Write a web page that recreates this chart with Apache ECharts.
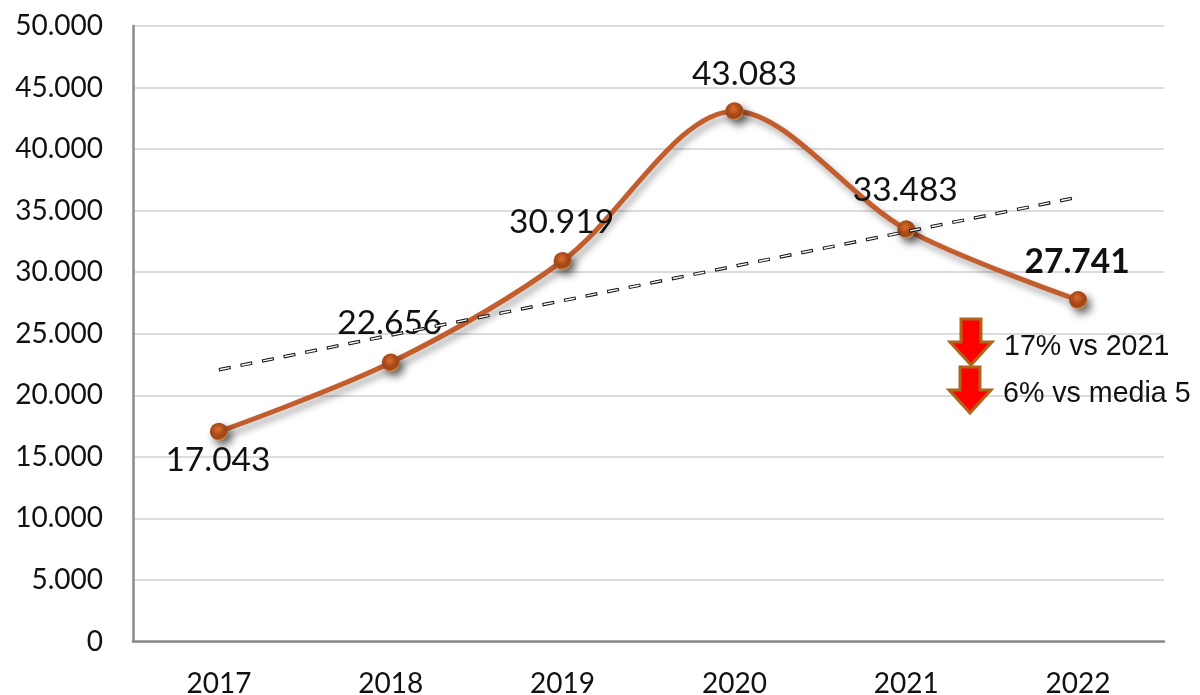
<!DOCTYPE html>
<html><head><meta charset="utf-8">
<style>html,body{margin:0;padding:0;background:#fff}#c{width:1200px;height:695px}</style>
<script src="https://cdn.jsdelivr.net/npm/echarts@6/dist/echarts.min.js"></script>
</head><body><div id="c"></div>
<script>
const years = ['2017','2018','2019','2020','2021','2022'];
const values = [17043,22656,30919,43083,33483,27741];
const trend = [22077,24881,27685,30489,33293,36097];
const labelOffsets = [[-1,60],[-1,-8],[-1,-8],[10,-6],[-1,-8],[-1,-7]];
const notes = ['17% vs 2021','6% vs media 5'];

const fmt = v => String(v).replace(/\B(?=(\d{3})+$)/g,'.');
const chart = echarts.init(document.getElementById('c'),null,{renderer:'canvas'});
const arrow = (x,y)=>({type:'polygon',z:50,shape:{points:[[x-10,y],[x+10,y],[x+10,y+23],[x+21,y+23],[x,y+46],[x-21,y+23],[x-10,y+23]]},
  style:{fill:'#ff0000',stroke:'#b0651a',lineWidth:3}});
const note = (x,y,t)=>({type:'text',z:50,x,y,style:{text:t,font:'28.6px "Liberation Sans"',fill:'#111',textVerticalAlign:'middle'}});

chart.setOption({
  animation:false,
  backgroundColor:'#fff',
  grid:{left:133,right:36,top:26,bottom:53.5,outerBoundsMode:'none'},
  xAxis:{type:'category',data:years,boundaryGap:true,
    axisLine:{lineStyle:{color:'#8a8a8a',width:2.5}},axisTick:{show:false},
    axisLabel:{color:'#111',fontFamily:'Lato',fontSize:28,margin:28},splitLine:{show:false}},
  yAxis:{type:'value',min:0,max:50000,interval:5000,
    axisLine:{show:true,lineStyle:{color:'#8a8a8a',width:2.5}},axisTick:{show:false},
    axisLabel:{color:'#111',fontFamily:'Lato',fontSize:28,margin:30,padding:[3,0,0,0],formatter:v=>fmt(v)},
    splitLine:{lineStyle:{color:'#dcdcdc',width:2}}},
  series:[
    {type:'line',name:'Totale',data:values.map((v,i)=>({value:v,
        label:{offset:labelOffsets[i],fontWeight:i===5?'bold':'normal'}})),
      smooth:0.32,z:3,
      lineStyle:{color:'#c25e2e',width:5,shadowColor:'rgba(0,0,0,0.35)',shadowBlur:7,shadowOffsetX:3,shadowOffsetY:5},
      symbol:'circle',symbolSize:18,
      itemStyle:{color:new echarts.graphic.RadialGradient(0.45,0.38,0.62,[
          {offset:0,color:'#d9702c'},{offset:0.55,color:'#a9481a'},{offset:0.82,color:'#9a4a18'},{offset:1,color:'#f59a4a'}]),
        shadowColor:'rgba(0,0,0,0.6)',shadowBlur:8,shadowOffsetX:4,shadowOffsetY:5},
      label:{show:true,position:'top',color:'#111',fontFamily:'Lato',fontSize:33.5,formatter:p=>fmt(p.value)}},
    {type:'line',name:'Tendenza',data:trend,smooth:false,symbol:'none',z:4,silent:true,
      lineStyle:{color:'#111',width:3.4,type:[12,10]}},
    {type:'line',name:'Tendenza interno',data:trend,smooth:false,symbol:'none',z:5,silent:true,
      lineStyle:{color:'#fff',width:1.4,type:[10,12],dashOffset:-1}}
  ],
  graphic:[arrow(971,319),arrow(970,367),note(1004,347,notes[0]),note(1003,394,notes[1])]
});
</script></body></html>
